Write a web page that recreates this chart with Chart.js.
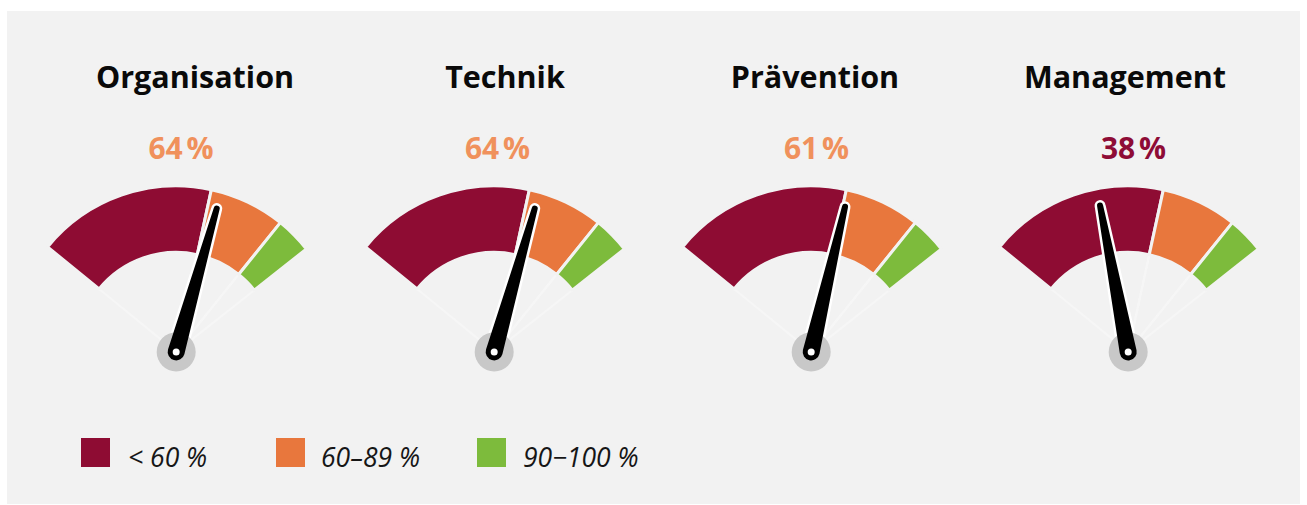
<!DOCTYPE html>
<html>
<head>
<meta charset="utf-8">
<script src="https://cdn.jsdelivr.net/npm/chart.js@4"></script>
<style>
  html, body { margin: 0; padding: 0; background: #fff; }
  body { width: 1307px; height: 505px; position: relative; overflow: hidden;
         font-family: "Open Sans", "Noto Sans", sans-serif; }
  #panel { position: absolute; left: 7px; top: 11px; width: 1293px; height: 493px; background: #f2f2f2; }
  .gauge { position: absolute; width: 340px; height: 240px; }
  .title { position: absolute; font-size: 30.5px; line-height: 32px; font-weight: 700; color: #0a0a0a;
           transform: translateX(-50%); white-space: nowrap; }
  .pct { position: absolute; font-size: 30px; line-height: 28px; font-weight: 700;
         transform: translateX(-50%); white-space: nowrap; }
  .swatch { position: absolute; width: 29px; height: 29px; top: 438px; }
  .legtext { position: absolute; top: 444px; font-size: 26.5px; line-height: 26px; font-style: italic; color: #161616; white-space: nowrap; }
</style>
</head>
<body>
<div id="panel"></div>
<script>
// data
const categories = ["Organisation", "Technik", "Prävention", "Management"];
const scores = [64, 64, 61, 38];
const bandLabels = ["< 60 %", "60–89 %", "90−100 %"];
const bandLimits = [0, 60, 90, 100];
const bandShare = [61.5, 26, 12.5];   // share of the dial each band takes

// look
const bandColors = ["#8e0c33", "#e8773d", "#7dbb3c"];
const pctColors = ["#8e0c36", "#f0915c", "#7dbb3c"];
const gaugeX = [177, 494.5, 812, 1129];
const gaugeY = 351;
const titleX = [195, 505, 815, 1125];
const pctX = [181, 497.5, 816.5, 1133.5];
const legendX = [81, 276, 477];
const legendTextX = [128, 321, 523];

function bandOf(v) {
  for (let k = 0; k < bandLimits.length - 1; k++) if (v <= bandLimits[k + 1]) return k;
  return bandLimits.length - 2;
}

const needlePlugin = {
  id: "needle",
  afterDatasetsDraw(chart, args, opts) {
    const arcs = chart.getDatasetMeta(0).data;
    const v = opts.value;
    const i = bandOf(v);
    const arc = arcs[i];
    const t = (v - bandLimits[i]) / (bandLimits[i + 1] - bandLimits[i]);
    const ang = arc.startAngle + t * (arc.endAngle - arc.startAngle);
    const x = arc.x, y = arc.y;
    const ctx = chart.ctx;
    const rb = 8.5, rt = 3, L = 149;
    const tx = x + Math.cos(ang) * L, ty = y + Math.sin(ang) * L;
    const nx = Math.cos(ang + Math.PI / 2), ny = Math.sin(ang + Math.PI / 2);
    const path = () => {
      ctx.beginPath();
      ctx.moveTo(x + nx * rb, y + ny * rb);
      ctx.lineTo(tx + nx * rt, ty + ny * rt);
      ctx.arc(tx, ty, rt, ang + Math.PI / 2, ang - Math.PI / 2, true);
      ctx.lineTo(x - nx * rb, y - ny * rb);
      ctx.arc(x, y, rb, ang - Math.PI / 2, ang + Math.PI / 2, true);
      ctx.closePath();
    };
    ctx.save();
    path();
    ctx.strokeStyle = "#ffffff";
    ctx.lineWidth = 5;
    ctx.lineJoin = "round";
    ctx.stroke();
    ctx.beginPath();
    ctx.arc(x, y, 19.5, 0, Math.PI * 2);
    ctx.fillStyle = "#c8c8c8";
    ctx.fill();
    path();
    ctx.fillStyle = "#000000";
    ctx.fill();
    ctx.beginPath();
    ctx.arc(x, y, 3.5, 0, Math.PI * 2);
    ctx.fillStyle = "#ffffff";
    ctx.fill();
    ctx.restore();
  }
};

const body = document.body;

categories.forEach((name, i) => {
  const title = document.createElement("div");
  title.className = "title";
  title.style.left = titleX[i] + "px";
  title.style.top = "60px";
  title.textContent = name;
  body.appendChild(title);

  const pct = document.createElement("div");
  pct.className = "pct";
  pct.style.left = pctX[i] + "px";
  pct.style.top = "134px";
  pct.style.color = pctColors[bandOf(scores[i])];
  pct.textContent = scores[i] + "\u202F%";
  body.appendChild(pct);

  const wrap = document.createElement("div");
  wrap.className = "gauge";
  wrap.style.left = (gaugeX[i] - 170) + "px";
  wrap.style.top = (gaugeY - 200) + "px";
  const cv = document.createElement("canvas");
  cv.width = 340;
  cv.height = 240;
  wrap.appendChild(cv);
  body.appendChild(wrap);

  new Chart(cv, {
    type: "doughnut",
    data: {
      labels: bandLabels,
      datasets: [
        {
          data: bandShare,
          backgroundColor: bandColors,
          borderColor: "#f2f2f2",
          borderWidth: 3,
          weight: 66.5
        },
        {
          data: bandShare,
          backgroundColor: "rgba(0,0,0,0)",
          borderColor: "#f6f6f6",
          borderWidth: 2,
          weight: 80.5
        }
      ]
    },
    options: {
      responsive: false,
      animation: false,
      rotation: -50.8,
      circumference: 102.5,
      radius: 166,
      cutout: "11.45%",
      layout: { padding: { bottom: 16 } },
      events: [],
      plugins: {
        legend: { display: false },
        tooltip: { enabled: false },
        needle: { value: scores[i] }
      }
    },
    plugins: [needlePlugin]
  });
});

bandLabels.forEach((lab, k) => {
  const sw = document.createElement("div");
  sw.className = "swatch";
  sw.style.left = legendX[k] + "px";
  sw.style.background = bandColors[k];
  body.appendChild(sw);
  const tx = document.createElement("div");
  tx.className = "legtext";
  tx.style.left = legendTextX[k] + "px";
  tx.textContent = lab;
  body.appendChild(tx);
});
</script>
</body>
</html>
